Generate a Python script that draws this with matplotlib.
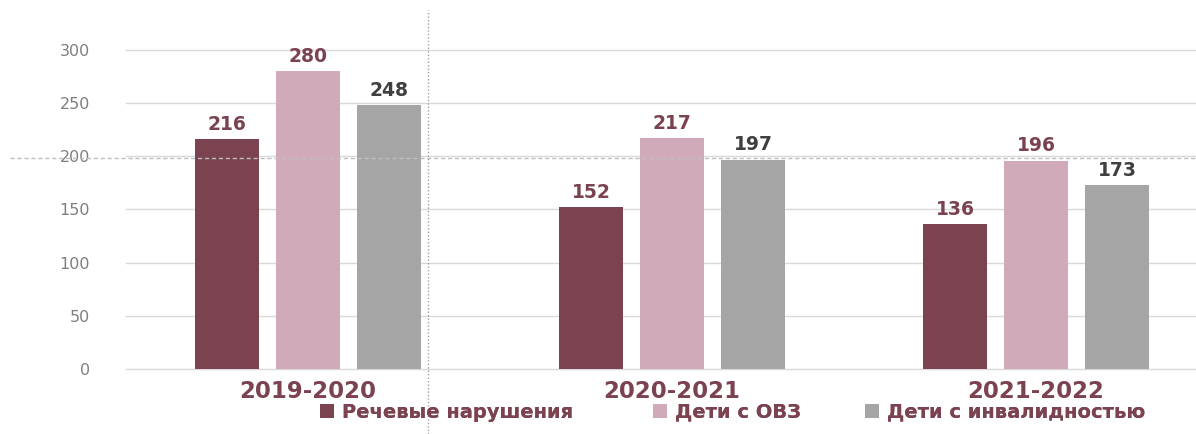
import matplotlib
matplotlib.use("Agg")
import matplotlib.pyplot as plt
import numpy as np
from matplotlib.patches import Patch
from matplotlib.lines import Line2D

plt.rcParams["font.family"] = ["DejaVu Sans"]

categories = ["2019-2020", "2020-2021", "2021-2022"]
series_names = ["Речевые нарушения", "Дети с ОВЗ", "Дети с инвалидностью"]
speech = [216, 152, 136]
ovz = [280, 217, 196]
disabled = [248, 197, 173]
yticks = [0, 50, 100, 150, 200, 250, 300]

colors = ["#7B4250", "#D0AABB", "#A5A5A5"]
label_colors = ["#7B4250", "#7B4250", "#3F3F3F"]
maroon = "#7B4250"

W, H = 1196, 434
fig = plt.figure(figsize=(W / 100, H / 100), dpi=100)
ax_left = 126 / W
ax_bottom = (H - 369) / H
ax_h = (369 - 50) / H
ax = fig.add_axes([ax_left, ax_bottom, 1 - ax_left, ax_h])

x = np.arange(len(categories))
bw = 64 / 364
step = 81 / 364
for i, (vals, c, lc) in enumerate(zip([speech, ovz, disabled], colors, label_colors)):
    pos = x + (i - 1) * step
    bars = ax.bar(pos, vals, width=bw, color=c, zorder=3)
    for b, v in zip(bars, vals):
        ax.text(b.get_x() + b.get_width() / 2, v + 5, str(v), ha="center", va="bottom",
                fontsize=13.5, fontweight="bold", color=lc, zorder=4)

ax.set_ylim(0, 300)
ax.set_xlim(-0.5, 2.5 - 22 / 364)
ax.set_yticks(yticks)
ax.set_yticklabels([str(t) for t in yticks])
ax.tick_params(axis="y", length=0, pad=26, labelsize=11.5, labelcolor="#7F7F7F")
ax.set_xticks(x)
ax.set_xticklabels(categories)
ax.tick_params(axis="x", length=0, pad=8, labelsize=16.5, labelcolor=maroon)
for lbl in ax.get_xticklabels():
    lbl.set_fontweight("bold")
ax.grid(axis="y", color="#D9D9D9", linewidth=1, zorder=0)
for gl in ax.get_ygridlines():
    gl.set_clip_on(False)
ax.set_axisbelow(True)
for s in ax.spines.values():
    s.set_visible(False)
ax.patch.set_alpha(0)

# dashed horizontal and dotted vertical guide lines
fig.add_artist(Line2D([10 / W, 1.0], [(H - 158) / H] * 2, color="#BFBFBF",
                      linestyle=(0, (3, 2)), linewidth=1, zorder=5))
fig.add_artist(Line2D([428 / W] * 2, [0, (H - 10) / H], color="#A0A0A0",
                      linestyle=(0, (1, 1.5)), linewidth=1, zorder=5))

legend_x = [320, 653, 865]
for name, c, lx in zip(series_names, colors, legend_x):
    leg = fig.legend([Patch(facecolor=c, edgecolor="none")], [name], loc="center left",
                     bbox_to_anchor=(lx / W, (H - 412) / H), frameon=False,
                     handlelength=0.7, handleheight=0.7, handletextpad=0.45,
                     borderaxespad=0, borderpad=0,
                     prop={"size": 14, "weight": "bold"})
    for t in leg.get_texts():
        t.set_color(maroon)
    fig.add_artist(leg)

fig.savefig("out.png", dpi=100)
